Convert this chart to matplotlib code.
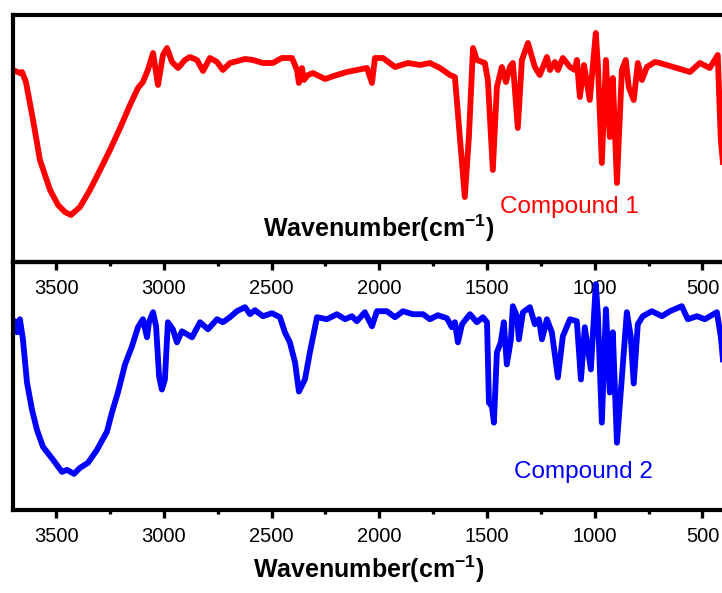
import numpy as np
import matplotlib.pyplot as plt
from matplotlib.ticker import MultipleLocator

plt.rcParams['font.family'] = ['Liberation Sans', 'DejaVu Sans']
plt.rcParams['mathtext.fontset'] = 'custom'
plt.rcParams['mathtext.rm'] = 'Liberation Sans'
plt.rcParams['mathtext.bf'] = 'Liberation Sans:bold'

# IR spectra: wavenumber (cm-1), transmittance (a.u.)
wn1 = [3700, 3668, 3658, 3640, 3607, 3575, 3528, 3491, 3459, 3431, 3389, 3343, 3296, 3250,
       3203, 3157, 3120, 3097, 3074, 3050, 3027, 3004, 2985, 2962, 2934, 2902, 2879, 2846,
       2818, 2786, 2753, 2726, 2693, 2623, 2586, 2540, 2494, 2452, 2405, 2382, 2373, 2359,
       2350, 2331, 2308, 2252, 2197, 2150, 2104, 2057, 2034, 2020, 1983, 1927, 1867, 1811,
       1765, 1718, 1672, 1649, 1626, 1603, 1584, 1565, 1547, 1510, 1496, 1473, 1454, 1431,
       1412, 1394, 1380, 1357, 1338, 1310, 1278, 1255, 1222, 1208, 1185, 1171, 1148, 1115,
       1092, 1083, 1069, 1050, 1023, 995, 985, 967, 948, 930, 916, 897, 874, 856, 842, 819,
       800, 781, 758, 721, 698, 619, 558, 512, 466, 429, 415, 405]
t1 = [192, 189, 190, 180, 142, 102, 72, 57, 50, 47, 55, 72, 92, 112,
      134, 157, 174, 180, 192, 209, 177, 207, 214, 200, 194, 202, 205, 202,
      191, 204, 200, 192, 199, 203, 202, 199, 199, 204, 204, 192, 179, 194,
      182, 187, 189, 183, 187, 190, 192, 194, 179, 204, 204, 195, 199, 197,
      199, 194, 187, 185, 125, 65, 125, 214, 202, 199, 182, 92, 175, 195,
      180, 195, 199, 134, 202, 219, 195, 187, 205, 192, 200, 192, 204, 195,
      192, 202, 165, 197, 162, 229, 195, 99, 202, 125, 184, 79, 192, 202, 175, 162,
      199, 182, 195, 200, 199, 194, 190, 199, 194, 207, 122, 100]

wn2 = [3700, 3691, 3681, 3668, 3654, 3635, 3612, 3589, 3561, 3514, 3473, 3449, 3417, 3389,
       3352, 3310, 3264, 3241, 3213, 3180, 3148, 3120, 3097, 3078, 3069, 3050, 3036, 3022,
       3009, 2995, 2981, 2958, 2939, 2916, 2869, 2832, 2795, 2753, 2726, 2693, 2661, 2623,
       2600, 2577, 2540, 2498, 2461, 2438, 2415, 2391, 2373, 2345, 2322, 2289, 2243, 2197,
       2159, 2127, 2104, 2067, 2034, 2011, 1965, 1927, 1890, 1844, 1797, 1765, 1728, 1686,
       1663, 1649, 1635, 1616, 1579, 1547, 1519, 1500, 1491, 1477, 1468, 1454, 1436, 1422,
       1408, 1389, 1380, 1361, 1352, 1333, 1301, 1278, 1259, 1245, 1222, 1199, 1171, 1148,
       1115, 1083, 1064, 1046, 1018, 995, 985, 967, 948, 930, 916, 897, 851, 833, 819, 800,
       777, 735, 688, 651, 596, 568, 526, 489, 433, 415, 405]
t2 = [180, 188, 177, 190, 170, 127, 100, 80, 63, 50, 38, 40, 36, 42,
      47, 60, 78, 97, 117, 145, 163, 182, 190, 172, 187, 197, 183, 133,
      120, 130, 187, 180, 167, 178, 172, 187, 180, 190, 187, 192, 198, 202,
      195, 199, 193, 196, 192, 177, 167, 147, 118, 130, 157, 192, 190, 195,
      190, 193, 188, 197, 183, 198, 198, 192, 198, 195, 195, 190, 194, 191,
      182, 187, 167, 185, 195, 187, 192, 187, 107, 103, 87, 157, 167, 187,
      145, 170, 203, 193, 170, 197, 202, 185, 190, 170, 190, 177, 132, 173,
      190, 188, 130, 182, 140, 225, 193, 87, 200, 117, 177, 67, 197, 173, 126, 185,
      193, 198, 193, 198, 203, 190, 193, 190, 197, 173, 150]

fig = plt.figure(figsize=(7.22, 5.93), dpi=100)
ax1 = fig.add_axes([13 / 722, 331 / 593, 711 / 722, 247 / 593])
ax2 = fig.add_axes([13 / 722, 83 / 593, 711 / 722, 248 / 593])
ax2.set_zorder(2)
ax2.patch.set_visible(False)

for ax in (ax1, ax2):
    ax.set_xlim(3700, 400)
    ax.set_ylim(0, 247)
    ax.set_yticks([])
    ax.xaxis.set_major_locator(MultipleLocator(500))
    ax.xaxis.set_minor_locator(MultipleLocator(250))
    ax.tick_params(axis='x', which='major', direction='out', length=6, width=2.4,
                   labelsize=14.5, pad=6)
    ax.tick_params(axis='x', which='minor', direction='out', length=3, width=2.4)
    for sp in ax.spines.values():
        sp.set_linewidth(3)

ax1.plot(wn1, t1, color='#ff0000', lw=4.2, solid_joinstyle='round')
ax2.plot(wn2, t2, color='#0000ff', lw=4.2, solid_joinstyle='round')

ax1.text(0.515, 0.138, r'Wavenumber(cm$^{\mathbf{-1}}$)', transform=ax1.transAxes,
         ha='center', va='center', fontsize=18, fontweight='bold')
ax2.set_xlabel(r'Wavenumber(cm$^{\mathbf{-1}}$)', fontsize=18, fontweight='bold', labelpad=6)

ax1.text(0.782, 0.223, 'Compound 1', color='#ff0000', transform=ax1.transAxes,
         ha='center', va='center', fontsize=17.5)
ax2.text(0.802, 0.154, 'Compound 2', color='#0000ff', transform=ax2.transAxes,
         ha='center', va='center', fontsize=17.5)

fig.savefig('out.png', dpi=100)
